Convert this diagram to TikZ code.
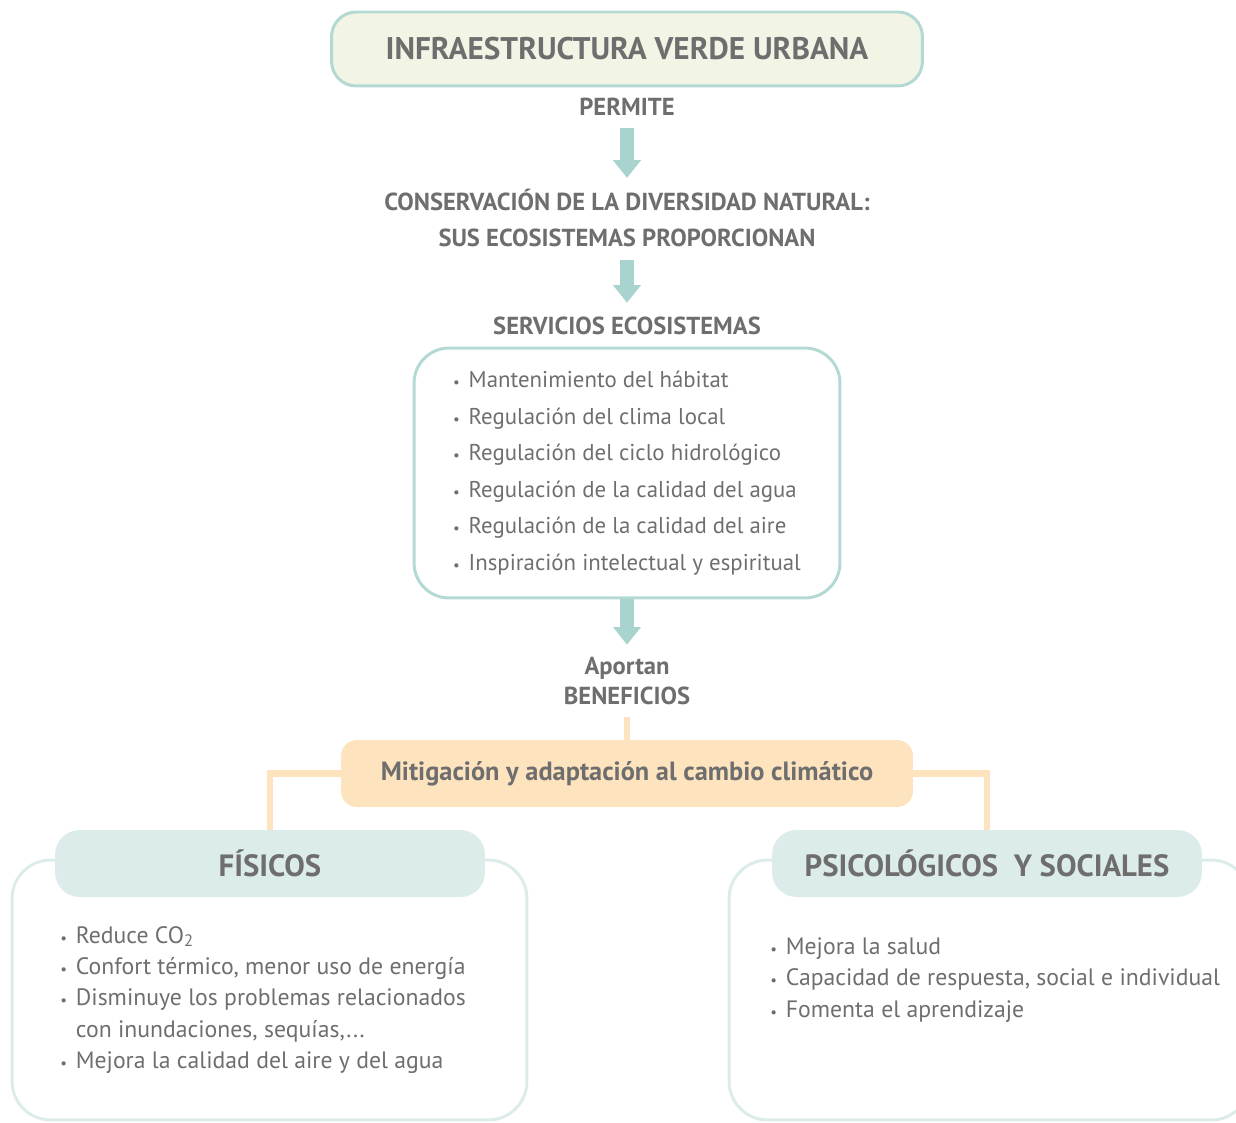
\documentclass[tikz,border=0pt]{standalone}
\usepackage{fontspec}
\setmainfont{PT Sans}
\usetikzlibrary{positioning, arrows.meta, calc}

\definecolor{tealline}{HTML}{B4D9D5}
\definecolor{tealsoft}{HTML}{DCECEA}
\definecolor{creamfill}{HTML}{F2F5E5}
\definecolor{peach}{HTML}{FDE3BE}
\definecolor{textgray}{HTML}{6E6E6E}
\definecolor{arrowteal}{HTML}{A9D3CE}

\newcommand{\bul}{{\fontsize{8.5}{8.5}\selectfont\textbullet}\hspace{5pt}}

\begin{document}
\begin{tikzpicture}[
    x=0.02cm, y=-0.02cm,
    text=textgray,
    titlebox/.style={draw=tealline, line width=1.7pt, fill=creamfill, rounded corners=14pt, minimum width=11.82cm, minimum height=1.48cm, font=\bfseries\fontsize{17.8}{21}\selectfont},
    heading/.style={inner sep=0pt, align=center, font=\bfseries\fontsize{14}{21}\selectfont},
    servbox/.style={draw=tealline, line width=1.7pt, rounded corners=20pt, minimum width=8.52cm, minimum height=5cm, align=left, font=\fontsize{13}{20.8}\selectfont},
    flow/.style={draw=arrowteal, line width=8pt, -{Triangle[length=10pt, width=16pt, line width=0pt]}},
    benefit/.style={fill=peach, rounded corners=9pt, minimum width=11.44cm, minimum height=1.34cm, font=\bfseries\fontsize{15}{18}\selectfont},
    branch/.style={draw=peach, line width=3.5pt},
    grouphead/.style={fill=tealsoft, rounded corners=14pt, minimum width=8.6cm, minimum height=1.34cm, font=\bfseries\fontsize{17.5}{20}\selectfont},
    groupbox/.style={draw=tealsoft, line width=1.7pt, rounded corners=22pt, minimum height=5.2cm},
    itemlist/.style={inner sep=0pt, align=left, anchor=west, font=\fontsize{13.5}{17.9}\selectfont}
]
    \useasboundingbox (0,0) rectangle (1236,1122);
    \clip (0,0) rectangle (1236,1122);

    % Cadena superior
    \node[titlebox] (infra) at (627,49) {INFRAESTRUCTURA VERDE URBANA};
    \node[heading] (permite) at (627,107) {PERMITE};
    \node[heading] (conserva) at (627,218) {CONSERVACIÓN DE LA DIVERSIDAD NATURAL:\\SUS ECOSISTEMAS PROPORCIONAN};
    \node[heading] (servicios) at (627,326) {SERVICIOS ECOSISTEMAS};
    \node[servbox] (lista) at (627,473) {\bul Mantenimiento del hábitat\\
        \bul Regulación del clima local\\
        \bul Regulación del ciclo hidrológico\\
        \bul Regulación de la calidad del agua\\
        \bul Regulación de la calidad del aire\\
        \bul Inspiración intelectual y espiritual};
    \node[heading, font=\bfseries\fontsize{14}{17}\selectfont] (beneficios) at (627,681) {Aportan\\BENEFICIOS};

    \draw[flow, shorten <=7pt, shorten >=6pt] (permite) -- (conserva);
    \draw[flow, shorten <=7pt, shorten >=8pt] (conserva) -- (servicios);
    \draw[flow, shorten >=7pt] (lista) -- (beneficios);

    % Beneficios
    \node[groupbox, minimum width=10.3cm] (fisbox) at (269.5,990) {};
    \node[groupbox, minimum width=10.42cm] (psibox) at (989.5,990) {};
    \node[benefit] (mitiga) at (627,773.5) {Mitigación y adaptación al cambio climático};
    \node[grouphead] (fisicos) at (270,863.5) {FÍSICOS};
    \node[grouphead] (psico) at (987,863.5) {PSICOLÓGICOS\ \ Y SOCIALES};

    \draw[branch, shorten <=7pt] (beneficios) -- (mitiga);
    \draw[branch] (mitiga.west) -| (fisicos.north);
    \draw[branch] (mitiga.east) -| (psico.north);

    \node[itemlist] (fislist) at (60,1000) {\bul Reduce CO\textsubscript{2}\\
        \bul Confort térmico, menor uso de energía\\
        \bul Disminuye los problemas relacionados\\
        \phantom{\bul}con inundaciones, sequías,...\\
        \bul Mejora la calidad del aire y del agua};
    \node[itemlist] (psilist) at (770,980) {\bul Mejora la salud\\
        \bul Capacidad de respuesta, social e individual\\
        \bul Fomenta el aprendizaje};
\end{tikzpicture}
\end{document}
